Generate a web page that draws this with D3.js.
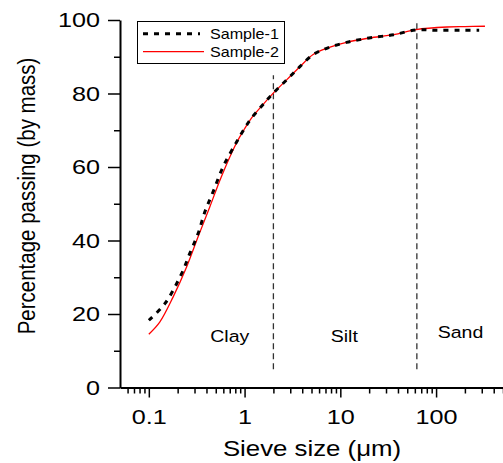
<!DOCTYPE html>
<html>
<head>
<meta charset="utf-8">
<script src="https://cdn.jsdelivr.net/npm/d3@7"></script>
<style>
  body { margin: 0; background: #fff; }
  text { font-family: "Liberation Sans", Arial, sans-serif; fill: #000; }
</style>
</head>
<body>
<div id="chart"></div>
<script>
// sieve sizes (um) and percentage passing
const size1 = [0.1, 0.147, 0.22, 0.268, 0.327, 0.385, 0.47, 0.6, 0.825, 1.0, 1.18, 1.56, 1.96, 2.75, 3.78, 5.2, 7.2, 11.6, 20, 36, 62, 100, 180, 282];
const pass1 = [18.3, 22.8, 31, 36.5, 41.9, 47.8, 53.3, 60.2, 66.8, 70.5, 73.3, 77.0, 79.9, 83.7, 87.3, 90.6, 92.3, 93.9, 95.1, 96, 97.3, 97.2, 97.2, 97.2];

const size2 = [0.1, 0.13, 0.179, 0.248, 0.327, 0.434, 0.575, 0.825, 1.0, 1.18, 1.56, 1.96, 2.75, 3.78, 5.2, 7.2, 11.6, 20, 36, 62, 130, 200, 324];
const pass2 = [14.5, 17.8, 24.6, 32.8, 41, 49.2, 57.5, 66.6, 70.4, 73.3, 77.0, 79.9, 83.7, 87.3, 90.6, 92.3, 93.9, 95.1, 96, 97.4, 98.1, 98.2, 98.3];

const seriesNames = ["Sample-1", "Sample-2"];

// soil class boundaries (um) and labels
const boundaries = [2, 63];
const boundaryTop = [85, 100];
const zones = [{name: "Clay", at: 0.7, y: 12.5}, {name: "Silt", at: 11, y: 12.5}, {name: "Sand", at: 180, y: 13.5}];

const yMajor = [0, 20, 40, 60, 80, 100];
const yMinor = [10, 30, 50, 70, 90];
const xMajor = [0.1, 1, 10, 100];

let width = 503, height = 463;
let sx = 1.2; // horizontal stretch of the text in the picture

let svg = d3.create("svg")
    .attr("width", width)
    .attr("height", height);

let x = d3.scaleLog().domain([0.05, 500]).range([120, 503]);
let y = d3.scaleLinear().domain([0, 100]).range([387.5, 20]);

let xMinor = [];
[0.01, 0.1, 1, 10, 100].forEach(d => {
    for (let k = 2; k <= 9; k++) {
        let v = d * k;
        if (v > 0.05 && v <= 500) xMinor.push(v);
    }
});

// boundary lines
svg.append("g")
    .selectAll("line")
    .data(boundaries)
    .join("line")
        .attr("x1", d => x(d))
        .attr("x2", d => x(d))
        .attr("y1", y(5))
        .attr("y2", (d, i) => y(boundaryTop[i]))
        .attr("stroke", "#333")
        .attr("stroke-width", 1.3)
        .attr("stroke-dasharray", "6,4");

svg.append("g")
    .selectAll("text")
    .data(zones)
    .join("text")
        .attr("transform", d => `translate(${x(d.at)},${y(d.y)}) scale(1.15,1)`)
        .attr("text-anchor", "middle")
        .attr("font-size", 17)
        .text(d => d.name);

// axes
svg.append("g")
    .attr("transform", `translate(0,${y(0)})`)
    .call(d3.axisBottom(x).tickValues(xMinor).tickSize(6).tickFormat(""))
    .call(g => g.select(".domain").remove())
    .call(g => g.selectAll(".tick line").attr("stroke-width", 1.5));

svg.append("g")
    .attr("transform", `translate(0,${y(0)})`)
    .call(d3.axisBottom(x).tickValues(xMajor).tickSize(10).tickSizeOuter(0).tickPadding(12).tickFormat(d => d))
    .call(g => g.select(".domain").attr("stroke-width", 2))
    .call(g => g.selectAll(".tick line").attr("stroke-width", 1.5))
    .call(g => g.selectAll(".tick text")
        .attr("font-size", 21)
        .attr("font-family", "Liberation Sans, Arial, sans-serif")
        .attr("transform", `scale(${sx},1)`));

svg.append("g")
    .attr("transform", "translate(120,0)")
    .call(d3.axisLeft(y).tickValues(yMinor).tickSize(6).tickFormat(""))
    .call(g => g.select(".domain").remove())
    .call(g => g.selectAll(".tick line").attr("stroke-width", 1.5));

svg.append("g")
    .attr("transform", "translate(120,0)")
    .call(d3.axisLeft(y).tickValues(yMajor).tickSize(12).tickSizeOuter(0).tickPadding(8))
    .call(g => g.select(".domain").attr("stroke-width", 2))
    .call(g => g.selectAll(".tick line").attr("stroke-width", 1.5))
    .call(g => g.selectAll(".tick text")
        .attr("font-size", 21)
        .attr("font-family", "Liberation Sans, Arial, sans-serif")
        .attr("x", -20 / sx)
        .attr("transform", `scale(${sx},1)`));

// axis titles
svg.append("text")
    .attr("transform", `translate(312,456) scale(${sx},1)`)
    .attr("text-anchor", "middle")
    .attr("font-size", 21.5)
    .text("Sieve size (\u03bcm)");

svg.append("text")
    .attr("transform", "translate(35,196) rotate(-90) scale(1,1.15)")
    .attr("text-anchor", "middle")
    .attr("font-size", 20.5)
    .text("Percentage passing (by mass)");

// curves
let line = d3.line()
    .x(d => x(d[0]))
    .y(d => y(d[1]))
    .curve(d3.curveCatmullRom.alpha(0.5));

svg.append("path")
    .datum(d3.zip(size2, pass2))
    .attr("fill", "none")
    .attr("stroke", "#ff0000")
    .attr("stroke-width", 1.3)
    .attr("d", line);

svg.append("path")
    .datum(d3.zip(size1, pass1))
    .attr("fill", "none")
    .attr("stroke", "#000")
    .attr("stroke-width", 3)
    .attr("stroke-dasharray", "5,6")
    .attr("d", line);

// legend
let legend = svg.append("g");

legend.append("rect")
    .attr("x", 137.5)
    .attr("y", 21.5)
    .attr("width", 147)
    .attr("height", 42)
    .attr("fill", "#fff")
    .attr("stroke", "#000")
    .attr("stroke-width", 1);

let ly = [33.7, 51.7];
legend.selectAll("line")
    .data(seriesNames)
    .join("line")
        .attr("x1", 143)
        .attr("x2", (d, i) => i ? 204 : 200)
        .attr("y1", (d, i) => ly[i])
        .attr("y2", (d, i) => ly[i])
        .attr("stroke", (d, i) => i ? "#ff0000" : "#000")
        .attr("stroke-width", (d, i) => i ? 1.3 : 3)
        .attr("stroke-dasharray", (d, i) => i ? null : "5,6");

legend.selectAll("text")
    .data(seriesNames)
    .join("text")
        .attr("transform", (d, i) => `translate(210,${ly[i] + 5}) scale(1.15,1)`)
        .attr("font-size", 14)
        .text(d => d);

document.getElementById("chart").appendChild(svg.node());
</script>
</body>
</html>
